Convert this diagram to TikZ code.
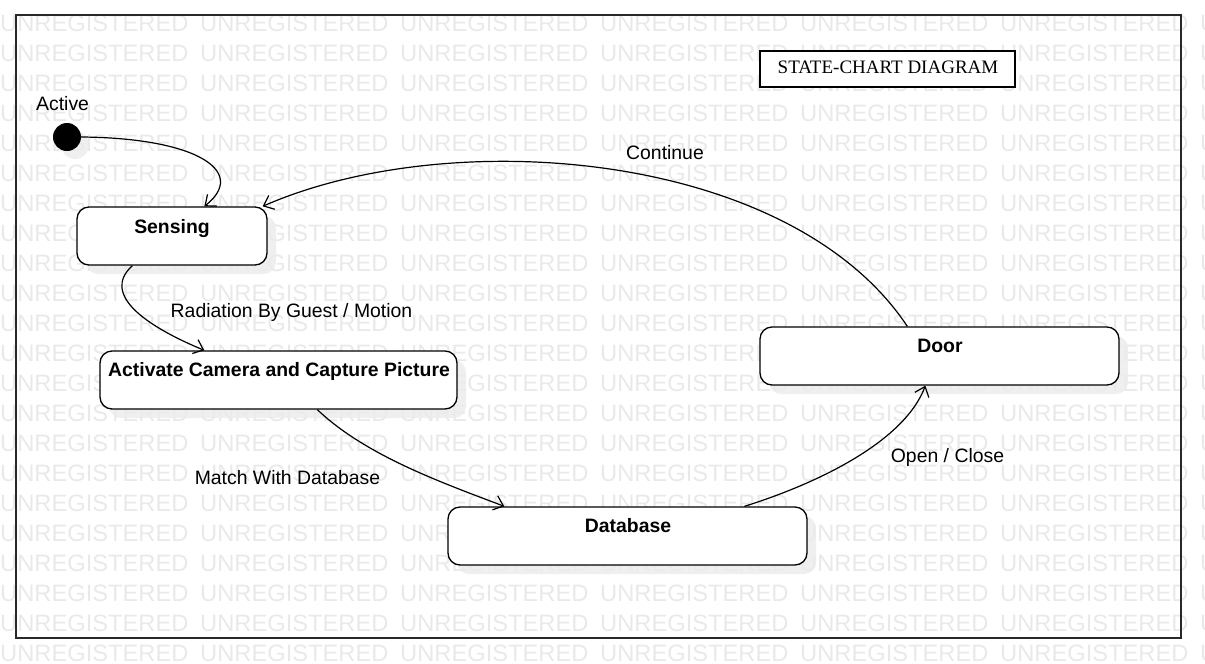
\documentclass[tikz,border=0pt]{standalone}
\usepackage{fontspec}
\setmainfont{Liberation Sans}
\newfontfamily\titlefont{Liberation Serif}
\usetikzlibrary{arrows.meta}
\definecolor{wmgray}{RGB}{233,233,233}
\definecolor{shadowgray}{RGB}{236,236,236}
\definecolor{framegray}{RGB}{40,40,40}
\tikzset{
  wm/.style={anchor=base west, inner sep=0pt, text=wmgray, font=\fontsize{23.7}{26}\selectfont},
  statebox/.style={draw=black, fill=white, line width=1.3pt, rounded corners=12pt, minimum height=58pt, inner sep=0pt},
  shadowbox/.style={fill=shadowgray, opacity=0.85, rounded corners=12pt, minimum height=58pt, inner sep=0pt},
  statename/.style={anchor=base, inner sep=0pt, font=\fontsize{19.4}{23}\selectfont\bfseries},
  translabel/.style={anchor=base, inner sep=0pt, font=\fontsize{19.4}{23}\selectfont},
  trans/.style={line width=1.2pt, -{Straight Barb[length=9pt,width=15pt,line width=1.2pt]}},
}
\begin{document}
\begin{tikzpicture}[x=1pt,y=-1pt]
\useasboundingbox (0,0) rectangle (1205,664);
% watermark
\foreach \r in {0,...,21}{
  \foreach \c in {0,...,6}{
    \node[wm] (wm-\r-\c) at (200*\c, 31.5+30*\r) {UNREGISTERED};
  }
}
% frame
\draw[framegray, line width=1.6pt] (16,15) rectangle (1181,638);
% title
\node[draw=black, fill=white, line width=1.4pt, minimum width=255pt, minimum height=36pt, inner sep=0pt] (title) at (887.5,69) {};
\node[anchor=base, inner sep=0pt, font=\titlefont\fontsize{19}{22}\selectfont] (titletext) at (888,73.5) {STATE-CHART DIAGRAM};
% shadows
\node[shadowbox, minimum width=190pt] (sensing-sh) at (181,245) {};
\node[shadowbox, minimum width=357pt] (activate-sh) at (287.5,389) {};
\node[shadowbox, minimum width=359pt] (database-sh) at (636.5,545) {};
\node[shadowbox, minimum width=359pt] (door-sh) at (948.5,365) {};
\fill[shadowgray, opacity=0.85] (75,145) circle (14pt);
% initial state
\node[circle, fill=black, minimum size=28pt, inner sep=0pt] (init) at (67,137) {};
\node[anchor=base west, inner sep=0pt, font=\fontsize{19.4}{23}\selectfont] (initlabel) at (36,110) {Active};
% states
\node[statebox, minimum width=190pt] (sensing) at (172,236) {};
\node[statename] (sensing-t) at (172,233) {Sensing};
\node[statebox, minimum width=357pt] (activate) at (278.5,380) {};
\node[statename] (activate-t) at (279,376) {Activate Camera and Capture Picture};
\node[statebox, minimum width=359pt] (database) at (627.5,536) {};
\node[statename] (database-t) at (628,532) {Database};
\node[statebox, minimum width=359pt] (door) at (939.5,356) {};
\node[statename] (door-t) at (940,352) {Door};
% transitions
\draw[trans] (init.east) .. controls (198,138) and (248,172) .. ([xshift=128pt]sensing.north west);
\draw[trans] ([xshift=56pt]sensing.south west) .. controls (100,295) and (148,327) .. ([xshift=105pt]activate.north west);
\draw[trans] ([xshift=218pt]activate.south west) .. controls (365,455) and (440,482) .. ([xshift=57pt]database.north west);
\draw[trans] ([xshift=297pt]database.north west) .. controls (822,482) and (905,440) .. ([xshift=166pt]door.south west);
\draw[trans] ([xshift=148pt]door.north west) .. controls (790,150) and (450,124) .. ([xshift=-5pt]sensing.north east);
% labels
\node[translabel] (lab-rad) at (291.5,317) {Radiation By Guest / Motion};
\node[translabel] (lab-match) at (287.5,484) {Match With Database};
\node[translabel] (lab-open) at (947.5,462) {Open / Close};
\node[translabel] (lab-cont) at (665,159) {Continue};
\end{tikzpicture}
\end{document}
